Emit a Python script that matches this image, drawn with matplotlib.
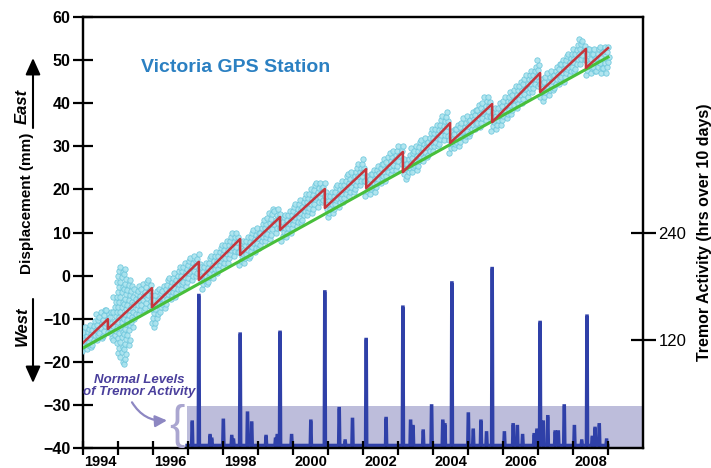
import numpy as np
import matplotlib
matplotlib.use("Agg")
import matplotlib.pyplot as plt

plt.rcParams['font.family'] = ['Liberation Sans', 'DejaVu Sans']

# ---------------- data ----------------
gps_t = [round(1994.0 + 0.1 * i, 1) for i in range(151)]
gps_hi = [-13.0, -12.0, -11.5, -10.5, -9.0, -8.5, -8.0, -8.0, -8.5, -5.0,
          1.0, 2.0, 1.5, -1.0, -2.5, -3.0, -2.5, -2.0, -1.5, -1.0,
          -4.5, -3.5, -3.0, -2.5, -1.0, -0.5, 0.5, 1.0, 2.0, 3.0,
          3.5, 4.0, 4.5, 5.0, 2.0, 3.0, 4.0, 4.5, 5.5, 6.5,
          7.0, 8.0, 9.0, 10.0, 10.0, 7.5, 8.0, 9.0, 10.0, 10.5,
          11.0, 12.0, 13.0, 14.5, 15.5, 15.0, 15.5, 13.5, 14.0, 15.0,
          16.0, 16.5, 17.5, 18.0, 19.0, 20.0, 21.0, 21.5, 21.5, 21.5,
          18.5, 19.5, 20.5, 21.0, 22.0, 23.0, 23.5, 24.0, 25.0, 26.0,
          27.0, 23.0, 23.5, 24.5, 25.5, 26.0, 27.0, 27.5, 28.5, 29.0,
          30.0, 30.0, 27.0, 28.0, 29.5, 30.0, 31.0, 31.5, 32.0, 33.0,
          34.0, 35.0, 36.0, 37.0, 38.0, 33.5, 34.0, 35.0, 35.5, 36.5,
          37.0, 38.0, 38.5, 39.5, 40.0, 41.5, 41.5, 38.0, 39.0, 40.0,
          40.5, 41.5, 42.5, 43.0, 44.0, 45.0, 45.5, 46.5, 47.5, 48.5,
          50.0, 45.5, 46.0, 47.0, 47.5, 48.5, 49.0, 50.0, 51.0, 51.5,
          52.5, 53.5, 55.0, 54.5, 52.5, 52.5, 52.5, 52.5, 53.0, 53.0,
          53.0]
gps_lo = [-17.5, -17.0, -16.5, -16.0, -15.0, -14.5, -14.0, -13.0, -14.5, -15.0,
          -18.0, -20.0, -20.5, -16.0, -12.0, -10.0, -9.0, -8.0, -7.5, -7.0,
          -12.0, -11.0, -8.5, -7.5, -6.5, -5.5, -5.0, -4.0, -3.0, -2.5,
          -1.5, -1.0, 0.0, 0.5, -3.0, -2.0, -1.5, -0.5, 0.5, 1.5,
          2.0, 3.0, 4.0, 4.5, 5.5, 2.5, 3.0, 4.0, 4.5, 5.5,
          6.5, 7.0, 8.0, 8.5, 9.5, 10.0, 11.0, 8.0, 9.0, 10.0,
          11.0, 11.5, 12.5, 13.0, 14.0, 14.5, 15.5, 16.0, 17.0, 17.5,
          13.5, 14.5, 15.5, 16.0, 17.0, 18.0, 18.5, 19.5, 20.0, 21.0,
          22.0, 18.5, 19.0, 19.5, 20.5, 21.5, 22.0, 23.0, 23.5, 24.5,
          25.5, 26.0, 22.5, 23.0, 24.0, 24.5, 25.5, 26.5, 27.5, 28.0,
          29.0, 30.0, 30.5, 31.5, 32.5, 28.5, 29.5, 30.0, 31.0, 31.5,
          32.5, 33.0, 34.0, 34.5, 35.5, 36.0, 37.0, 33.5, 34.0, 35.0,
          36.0, 36.5, 37.5, 38.5, 39.0, 40.0, 41.0, 41.5, 42.5, 43.5,
          44.0, 40.5, 41.5, 42.0, 43.0, 43.5, 44.5, 45.0, 46.0, 46.5,
          47.5, 48.0, 49.0, 50.0, 46.5, 47.0, 47.5, 47.5, 47.0, 47.0,
          48.5]

# sawtooth model (red) and long-term trend (green)
model_t = [1994.0, 1994.71, 1994.71, 1995.97, 1995.97, 1997.31, 1997.31, 1998.49,
           1998.49, 1999.63, 1999.63, 2000.91, 2000.91, 2002.09, 2002.09, 2003.14,
           2003.14, 2004.49, 2004.49, 2005.69, 2005.69, 2007.06, 2007.06, 2008.37,
           2008.37, 2009.0]
model_v = [-15.6, -10.1, -12.4, -2.9, -7.3, 3.2, -1.0, 8.5,
           4.8, 13.6, 10.6, 20.1, 15.7, 24.7, 20.3, 28.7,
           24.0, 35.4, 30.8, 39.8, 35.6, 47.0, 42.6, 52.6,
           48.2, 52.8]
trend_t = [1994.0, 2009.0]
trend_v = [-16.8, 50.7]

# tremor activity (hrs over 10 days)
tremor_start, tremor_end, tremor_base = 1996.97, 2009.0, 3
spike_t = [1997.12, 1997.31, 1997.63, 1997.68, 1998.01, 1998.25, 1998.30, 1998.49,
           1998.70, 1998.82, 1999.23, 1999.50, 1999.55, 1999.63, 1999.96, 2000.51,
           2000.91, 2001.32, 2001.49, 2001.70, 2002.09, 2002.66, 2003.14, 2003.36,
           2003.43, 2003.72, 2003.96, 2004.28, 2004.34, 2004.54, 2005.01, 2005.15,
           2005.37, 2005.53, 2005.69, 2006.04, 2006.29, 2006.41, 2006.56, 2006.89,
           2006.97, 2007.06, 2007.15, 2007.28, 2007.49, 2007.58, 2007.75, 2008.04,
           2008.25, 2008.40, 2008.55, 2008.63, 2008.75, 2008.96]
spike_h = [29, 170, 14, 10, 31, 13, 9, 127,
           39, 28, 13, 10, 14, 129, 14, 30,
           174, 44, 8, 32, 121, 33, 157, 30,
           24, 19, 47, 30, 26, 184, 38, 20,
           30, 17, 200, 17, 26, 24, 14, 15,
           20, 140, 29, 35, 18, 18, 47, 24,
           8, 147, 12, 22, 26, 9]
normal_level = 46.7

year_ticks = list(range(1994, 2010))
year_labels = [1994, 1996, 1998, 2000, 2002, 2004, 2006, 2008]

# ---------------- figure ----------------
W, H = 711, 468
fig = plt.figure(figsize=(W / 100, H / 100), dpi=100)
ax = fig.add_axes([83 / W, 20 / H, 560 / W, 431 / H])
ax.set_xlim(1994, 2010)
ax.set_ylim(-40, 60)
ax2 = ax.twinx()
ax2.set_ylim(0, 480)

# shaded normal-level band
ax2.fill_between([tremor_start, 2010], 0, normal_level, color='#bdbddb', lw=0, zorder=1)

# tremor line
tt = [tremor_start]
hh = [tremor_base]
for t, h in zip(spike_t, spike_h):
    tt += [t - 0.02, t - 0.006, t + 0.006, t + 0.02]
    hh += [tremor_base, h, h, tremor_base]
tt.append(tremor_end)
hh.append(tremor_base)
ax2.plot(tt, hh, color='#2f40a8', lw=2.3, zorder=2, solid_joinstyle='miter')

# GPS scatter
px, py = [], []
for i, (t, hi, lo) in enumerate(zip(gps_t, gps_hi, gps_lo)):
    n = max(4, int(np.ceil((hi - lo) / 1.2)) + 1)
    ys = np.linspace(lo, hi, n)
    for k, y in enumerate(ys):
        px.append(t + 0.035 * ((k + i) % 3 - 1))
        py.append(y)
ax2.set_zorder(1)
ax.set_zorder(2)
ax.patch.set_visible(False)
ax.scatter(px, py, s=15, facecolor='#a9e3ee', edgecolor='#6cc6dc', lw=0.6, alpha=0.9, zorder=3)
ax.plot(trend_t, trend_v, color='#48bf3a', lw=2.2, zorder=4)
ax.plot(model_t, model_v, color='#c4353c', lw=1.8, zorder=5)

# axes styling
for a in (ax, ax2):
    for s in a.spines.values():
        s.set_linewidth(1.6)
ax.set_yticks(range(-40, 61, 10))
ax.tick_params(axis='y', direction='inout', length=14, width=1.6, labelsize=11.5, pad=2)
for lab in ax.get_yticklabels():
    lab.set_fontweight('bold')
ax.set_xticks(year_ticks)
ax.set_xticklabels([])
ax.tick_params(axis='x', which='major', direction='inout', length=10, width=1.6)
ax.set_xticks([y + 0.5 for y in year_labels], minor=True)
ax.set_xticklabels([str(y) for y in year_labels], minor=True, fontsize=10.5, fontweight='bold')
ax.tick_params(axis='x', which='minor', length=0, pad=5)

ax2.set_yticks([120, 240])
ax2.tick_params(axis='y', direction='inout', length=18, width=1.6, labelsize=12, pad=2)
ax2.set_ylabel('Tremor Activity (hrs over 10 days)', fontsize=11.5, fontweight='bold', labelpad=8)

# title
ax.text(1995.65, 48.3, 'Victoria GPS Station', color='#2b80c2', fontsize=14, fontweight='bold',
        va='center', ha='left')

# left label with East / West arrows
fig.text(27 / W, 1 - 203 / H, 'Displacement (mm)', rotation=90, fontsize=11, fontweight='bold',
         ha='center', va='center')
fig.text(22 / W, 1 - 106 / H, 'East', rotation=90, fontsize=12, fontweight='bold', style='italic',
         ha='center', va='center')
fig.text(22 / W, 1 - 326 / H, 'West', rotation=90, fontsize=12, fontweight='bold', style='italic',
         ha='center', va='center')
ax.annotate('', xy=(33, H - 58), xytext=(33, H - 128), xycoords='figure pixels',
            textcoords='figure pixels', annotation_clip=False,
            arrowprops=dict(arrowstyle='-|>,head_length=1.0,head_width=0.45', lw=1.5, color='black',
                            shrinkA=0, shrinkB=0))
ax.annotate('', xy=(33, H - 383), xytext=(33, H - 299), xycoords='figure pixels',
            textcoords='figure pixels', annotation_clip=False,
            arrowprops=dict(arrowstyle='-|>,head_length=1.0,head_width=0.45', lw=1.5, color='black',
                            shrinkA=0, shrinkB=0))

# normal levels annotation
ax.text(1995.6, -25.6, 'Normal Levels\nof Tremor Activity', color='#4a3f9c', fontsize=9.5,
        fontweight='bold', style='italic', ha='center', va='center', linespacing=1.05)
ax.text(1996.68, -35.0, '{', color='#aaa6d0', fontsize=33, ha='center', va='center',
        fontweight='light')
ax.annotate('', xy=(1996.4, -33.6), xytext=(1995.4, -29.4),
            arrowprops=dict(arrowstyle='-|>,head_length=0.7,head_width=0.35', lw=1.6,
                            color='#8d87c2', connectionstyle='arc3,rad=0.3',
                            shrinkA=0, shrinkB=0))

fig.savefig('out.png', dpi=100)
